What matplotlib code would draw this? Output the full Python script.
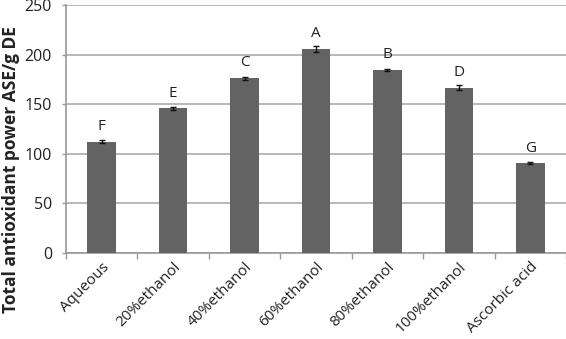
import matplotlib
matplotlib.use("Agg")
import matplotlib.pyplot as plt
import matplotlib.transforms as mtransforms
import numpy as np

categories = ["Aqueous", "20%ethanol", "40%ethanol", "60%ethanol", "80%ethanol", "100%ethanol", "Ascorbic acid"]
values = [112, 145.5, 176, 205.5, 184, 166.5, 90]
errors = [1.5, 1.2, 1.5, 2.8, 1.0, 2.3, 1.0]
letters = ["F", "E", "C", "A", "B", "D", "G"]

plt.rcParams['font.family'] = ['Open Sans', 'DejaVu Sans']

W, H = 566, 339
fig = plt.figure(figsize=(W / 100, H / 100), dpi=100)
left, right, top, bottom = 66, 566, 5, 252.6
ax = fig.add_axes([left / W, 1 - bottom / H, (right - left) / W, (bottom - top) / H])

x = np.arange(len(categories))
ax.bar(x, values, width=0.4, color="#636363", zorder=3)
ax.errorbar(x, values, yerr=errors, fmt="none", ecolor="#111111", elinewidth=1, capsize=2.5, capthick=1, zorder=4)
for xi, v, l in zip(x, values, letters):
    ax.text(xi, v + 12, l, ha="center", va="baseline", fontsize=11, color="#222222")

ax.set_xlim(-0.5, len(categories) - 0.5)
ax.set_ylim(0, 250)
ax.set_yticks([0, 50, 100, 150, 200, 250])
ax.yaxis.grid(True, color="#ababab", linewidth=1.2, zorder=0)
ax.tick_params(axis="y", length=3, width=1, color="#999999", labelsize=11.5, labelcolor="#222222", pad=7)
ax.set_xticks(x)
ax.set_xticklabels(categories, rotation=45, ha="right", rotation_mode="anchor", fontsize=11, color="#222222")
shift = mtransforms.ScaledTranslation(-2 / 100, 0, fig.dpi_scale_trans)
for lbl in ax.get_xticklabels():
    lbl.set_transform(lbl.get_transform() + shift)
ax.set_xticks(np.arange(-0.5, len(categories), 1), minor=True)
ax.tick_params(axis="x", which="major", length=0, pad=5)
ax.tick_params(axis="x", which="minor", length=4, color="#999999", width=1)
for s in ["top", "right"]:
    ax.spines[s].set_visible(False)
for s in ["left", "bottom"]:
    ax.spines[s].set_color("#999999")
    ax.spines[s].set_linewidth(1.2)

fig.text(11 / W, 1 - 170 / H, "Total antioxidant power ASE/g DE", rotation=90,
         ha="center", va="center", fontsize=12.5, fontweight="bold", color="#222222")

fig.savefig("out.png", dpi=100)
